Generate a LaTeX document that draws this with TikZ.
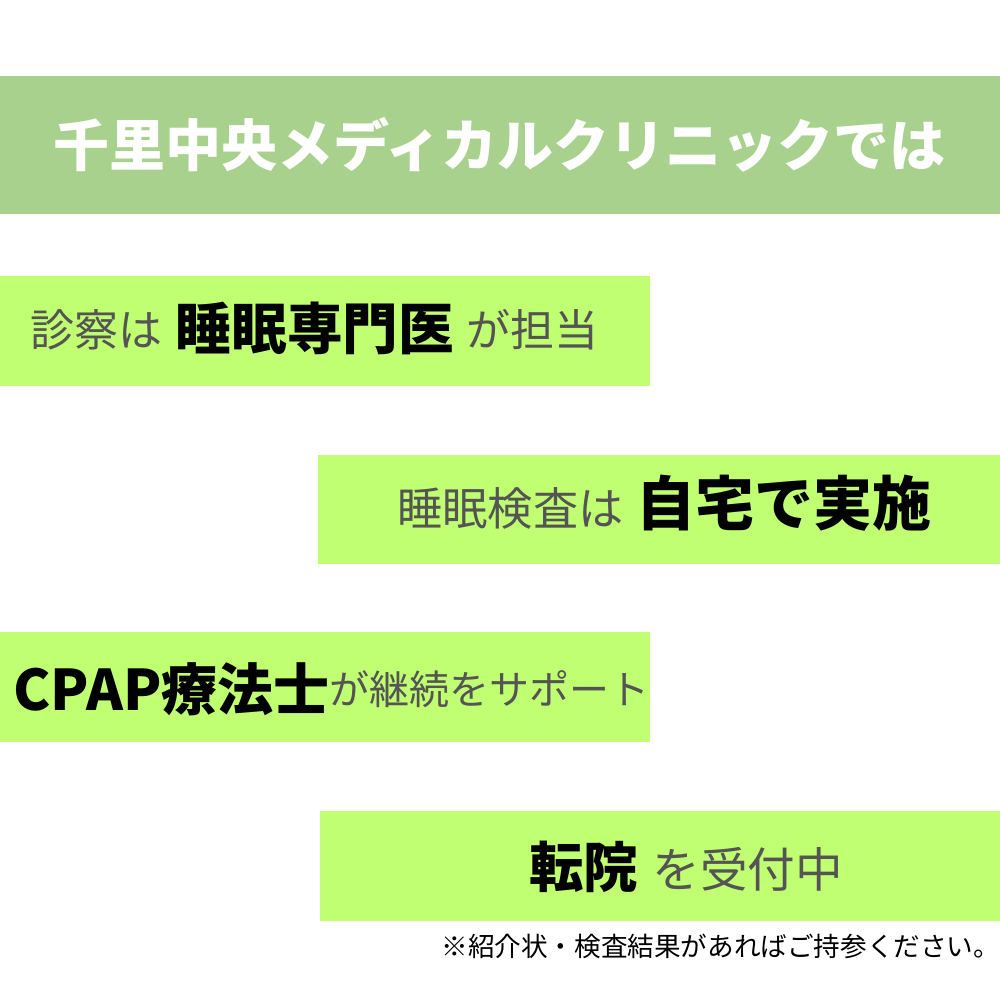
\documentclass[tikz,border=0pt]{standalone}
\usepackage{fontspec}
\setmainfont{Noto Sans CJK JP}
\definecolor{headgreen}{rgb}{0.663, 0.82, 0.557}
\definecolor{bandlime}{rgb}{0.757, 1.0, 0.447}
\definecolor{graytext}{rgb}{0.33, 0.33, 0.33}
\tikzset{
	band/.style={fill=bandlime, anchor=north west, inner sep=0pt},
	headtext/.style={white, font=\bfseries\fontsize{28}{30}\selectfont, inner sep=0pt, anchor=west},
	darktext/.style={black, font=\bfseries\fontsize{#1}{30}\selectfont, inner sep=0pt, anchor=west},
	lighttext/.style={graytext, font=\fontsize{#1}{30}\selectfont, inner sep=0pt, anchor=west},
}
\begin{document}
\begin{tikzpicture}[x=0.5pt,y=0.5pt,yscale=-1,xscale=1]
		\useasboundingbox (0,0) rectangle (1000,1000);
		\fill[white] (0,0) rectangle (1000,1000);

		% Heading band
		\node (headband) [fill=headgreen, anchor=north west, inner sep=0pt, minimum width=500pt, minimum height=69pt] at (0,76) {};
		\node (headlabel) [headtext] at (53,145) {千里中央メディカルクリニックでは};

		% First band
		\node (bandone) [band, minimum width=325pt, minimum height=55pt] at (0,276) {};
		\node (onea) [lighttext=22] at (30,330) {診察は};
		\node (oneb) [darktext=27.8] at (175.5,328) {睡眠専門医};
		\node (onec) [lighttext=22] at (466,330) {が担当};

		% Second band
		\node (bandtwo) [band, minimum width=341pt, minimum height=54.5pt] at (318,455) {};
		\node (twoa) [lighttext=22.6] at (397,508) {睡眠検査は};
		\node (twob) [darktext=29.5] at (636.5,503) {自宅で実施};

		% Third band
		\node (bandthree) [band, minimum width=325pt, minimum height=55pt] at (0,632) {};
		\node (threea) [darktext=28] at (13,689) {CPAP療法士};
		\node (threeb) [lighttext=20] at (329,689) {が継続をサポート};

		% Fourth band
		\node (bandfour) [band, minimum width=340pt, minimum height=55pt] at (320,811) {};
		\node (foura) [darktext=27.2] at (529,867) {転院};
		\node (fourb) [lighttext=23.8] at (652,869) {を受付中};

		% Footnote
		\node (footnote) [black, font=\fontsize{13.3}{15}\selectfont, inner sep=0pt, anchor=west] at (441,946) {※紹介状・検査結果があればご持参ください。};
	\end{tikzpicture}
\end{document}
